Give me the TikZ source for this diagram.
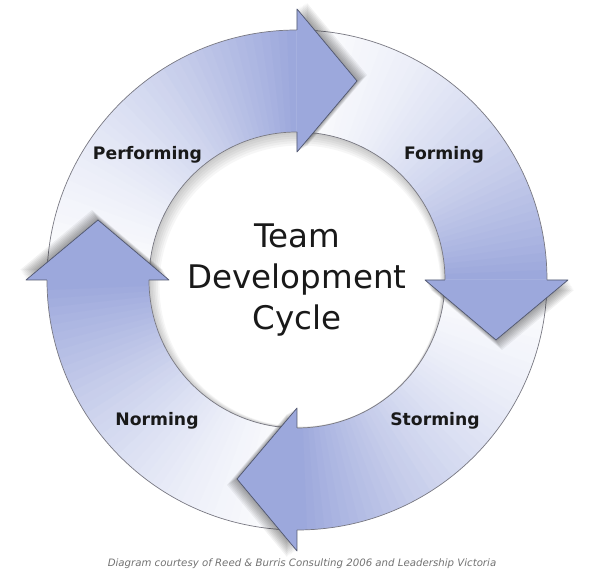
\documentclass[tikz,border=0pt]{standalone}
\usepackage{fontspec}
\setmainfont{DejaVu Sans}
\usetikzlibrary{calc}

\definecolor{arrowblue}{RGB}{156,168,220}
\definecolor{ringline}{RGB}{120,120,130}
\definecolor{headline}{RGB}{80,86,110}
\definecolor{notegray}{RGB}{115,115,115}

% ring and head sizes (1px = 0.02cm)
\def\Ro{5.0}
\def\Ri{2.96}
\def\Rm{3.98}
\def\Rbo{5.42}
\def\Rbi{2.56}
\def\hl{1.2}

\begin{document}
\begin{tikzpicture}[
	stage/.style={font=\fontsize{9.8}{12}\selectfont\bfseries, text=black!90, anchor=base},
	title/.style={align=center, font=\fontsize{18.5}{23.2}\selectfont, text=black!90},
	note/.style={font=\fontsize{5.8}{7}\selectfont\itshape, text=notegray, anchor=base},
	headedge/.style={draw=headline, line width=0.4pt, line join=round},
]
	\useasboundingbox[fill=white] (-5.94,-6.10) rectangle (6.06,5.60);
	
	% bodies: pale at the tail, blue at the head
	\foreach \h in {90,0,-90,-180}{
		\foreach \i in {0,...,44}{
			\pgfmathsetmacro\a{\h+90-2*\i+0.3*(\i>0)}
			\pgfmathsetmacro\b{\h+90-2*\i-2}
			\pgfmathtruncatemacro\p{4+96*((\i+1)/45)^1.6}
			\fill[arrowblue!\p!white] (\a:\Ro) arc (\a:\b:\Ro) -- (\b:\Ri) arc (\b:\a:\Ri) -- cycle;
		}
	}
	
	% inner disc with its soft shadow
	\fill[white] (0,0) circle (\Ri);
	\begin{scope}
		\clip (0,0) circle (\Ri);
		\foreach \k in {1,...,6}
			\fill[black, opacity=0.035, even odd rule] (0,0) circle (\Ri+0.3) ({0.01*\k},{-0.02*\k}) circle ({\Ri-0.025*\k});
	\end{scope}
	\draw[ringline, line width=0.4pt] (0,0) circle (\Ro) (0,0) circle (\Ri);
	
	% heads
	\foreach \h in {90,0,-90,-180}{
		\begin{scope}[rotate=\h-90]
			\foreach \k in {1,...,8}
				\fill[black, opacity=0.05, shift={({0.025*\k},{0.015*\k})}] (0,\Rbo) -- (\hl,\Rm) -- (0,\Rbi) -- cycle;
			\fill[arrowblue] (0,\Rbo) -- (\hl,\Rm) -- (0,\Rbi) -- cycle;
			\draw[headedge] (0,\Ro) -- (0,\Rbo) -- (\hl,\Rm) -- (0,\Rbi) -- (0,\Ri);
		\end{scope}
	}
	
	\node[stage] (performing) at (-2.99,2.40) {Performing};
	\node[stage] (forming) at (2.94,2.40) {Forming};
	\node[stage] (storming) at (2.76,-2.92) {Storming};
	\node[stage] (norming) at (-2.80,-2.92) {Norming};
	
	\node[title] (cycle) at (0,0) {Team\\Development\\Cycle};
	
	\node[note] (credit) at (0.1,-5.74) {Diagram courtesy of Reed \& Burris Consulting 2006 and Leadership Victoria};
\end{tikzpicture}
\end{document}
